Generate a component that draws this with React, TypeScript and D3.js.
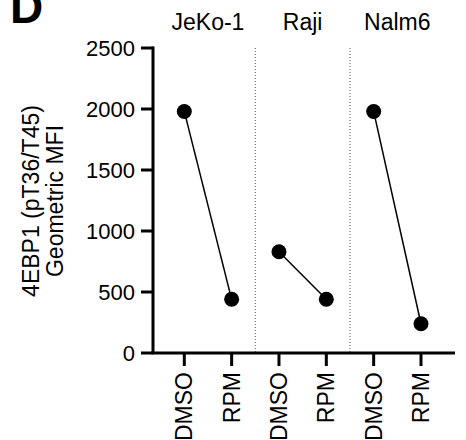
import React from "react";
import * as d3 from "d3";

const cellLines = ["JeKo-1", "Raji", "Nalm6"];
const treatments = ["DMSO", "RPM"];
const dmsoValues = [1980, 830, 1980];
const rpmValues = [440, 440, 240];
const yTicks = [0, 500, 1000, 1500, 2000, 2500];

const FONT = "'Liberation Sans', Arial, Helvetica, sans-serif";

export default function App() {
  const W = 466, H = 440;
  const axisLeft = 153, axisRight = 455;
  const y = d3.scaleLinear().domain([0, 2500]).range([353, 48]);
  const keys = cellLines.flatMap((c) => treatments.map((t) => `${c}|${t}`));
  const x = d3.scalePoint<string>().domain(keys).range([184.3, 421]);

  return (
    <svg width={W} height={H} style={{ position: "absolute", left: 0, top: 0 }} fontFamily={FONT}>
      <text x={10} y={23} fontSize={46} fontWeight="bold" fill="#000">D</text>

      {/* y label */}
      <g transform={`translate(0, 201) rotate(-90)`}>
        <text x={0} y={39} textAnchor="middle" fontSize={23}>4EBP1 (pT36/T45)</text>
        <text x={0} y={63} textAnchor="middle" fontSize={23}>Geometric MFI</text>
      </g>

      {/* separators */}
      {cellLines.slice(1).map((c, i) => {
        const xs = (x(`${cellLines[i]}|RPM`)! + x(`${c}|DMSO`)!) / 2;
        return (
          <line key={c} x1={xs} x2={xs} y1={y(2500)} y2={y(0)} stroke="#555" strokeWidth={1} strokeDasharray="1,2" />
        );
      })}

      {/* group headers */}
      {cellLines.map((c) => {
        const cx = (x(`${c}|DMSO`)! + x(`${c}|RPM`)!) / 2;
        return (
          <text key={c} x={cx} y={30} textAnchor="middle" fontSize={23}>{c}</text>
        );
      })}

      {/* y axis */}
      <line x1={axisLeft} x2={axisLeft} y1={y(2500) - 1.5} y2={y(0)} stroke="#000" strokeWidth={3} />
      {yTicks.map((t) => (
        <g key={t}>
          <line x1={axisLeft - 12} x2={axisLeft} y1={y(t)} y2={y(t)} stroke="#000" strokeWidth={3} />
          <text x={135} y={y(t)} textAnchor="end" dominantBaseline="central" fontSize={22}>{t}</text>
        </g>
      ))}

      {/* x axis */}
      <line x1={axisLeft - 1.5} x2={axisRight} y1={y(0)} y2={y(0)} stroke="#000" strokeWidth={3} />
      {keys.map((k) => (
        <g key={k}>
          <line x1={x(k)} x2={x(k)} y1={y(0)} y2={y(0) + 13} stroke="#000" strokeWidth={3} />
          <text transform={`translate(${x(k)}, 372) rotate(-90)`} textAnchor="end" dominantBaseline="central" fontSize={23}>
            {k.split("|")[1]}
          </text>
        </g>
      ))}

      {/* data */}
      {cellLines.map((c, i) => {
        const x0 = x(`${c}|DMSO`)!, x1 = x(`${c}|RPM`)!;
        const y0 = y(dmsoValues[i]), y1 = y(rpmValues[i]);
        return (
          <g key={c}>
            <line x1={x0} y1={y0} x2={x1} y2={y1} stroke="#000" strokeWidth={1.5} />
            <circle cx={x0} cy={y0} r={7.5} fill="#000" />
            <circle cx={x1} cy={y1} r={7.5} fill="#000" />
          </g>
        );
      })}
    </svg>
  );
}
